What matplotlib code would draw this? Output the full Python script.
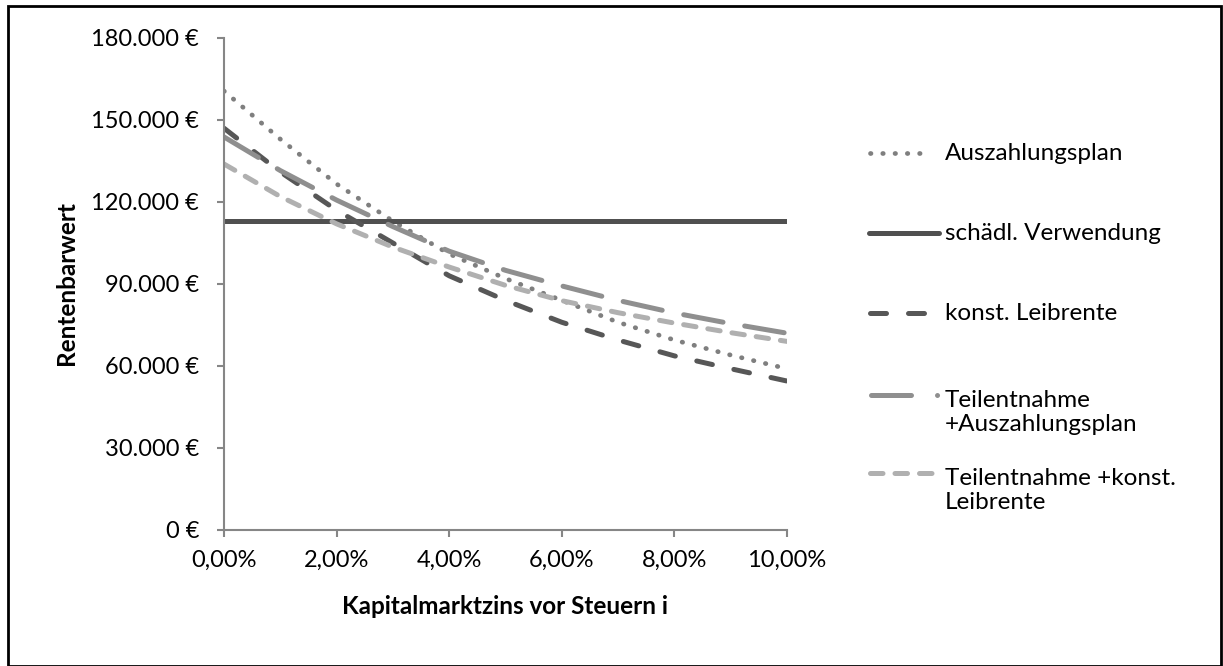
import matplotlib
matplotlib.use('Agg')
import matplotlib.pyplot as plt
import matplotlib.patches as patches
from matplotlib.lines import Line2D
from matplotlib.ticker import FuncFormatter

plt.rcParams['font.family'] = ['Lato', 'DejaVu Sans']

# interest rate in percent
zins = [0, 1, 2, 3, 4, 5, 6, 7, 8, 9, 10]

# present values in euro
auszahlungsplan = [160600, 143000, 126600, 113000, 101000, 92000, 84000, 76000, 69500, 64000, 59000]
schaedl_verwendung = [113000] * 11
konst_leibrente = [147000, 131000, 117000, 105000, 93000, 84000, 76000, 69500, 63700, 59000, 54500]
teil_auszahlungsplan = [143800, 131500, 120700, 111000, 102000, 95000, 89300, 84000, 79400, 75500, 72000]
teil_leibrente = [133900, 122000, 112000, 103500, 96200, 89500, 83900, 79500, 75700, 72200, 69000]

labels = ['Auszahlungsplan', 'schädl. Verwendung', 'konst. Leibrente',
          'Teilentnahme\n+Auszahlungsplan', 'Teilentnahme +konst.\nLeibrente']

W, H = 1223, 666
fig = plt.figure(figsize=(W / 100, H / 100), dpi=100)
ax = fig.add_axes([224 / W, 1 - 530 / H, (787 - 224) / W, (530 - 38) / H])

styles = [
    dict(color='#7f7f7f', lw=3.4, linestyle=(0, (0.1, 2.5)), dash_capstyle='round'),
    dict(color='#505050', lw=3.6, linestyle='-', solid_capstyle='round'),
    dict(color='#575757', lw=3.6, linestyle=(0, (3.2, 4.4)), dash_capstyle='round'),
    dict(color='#8f8f8f', lw=3.6, linestyle=(0, (8, 4.4)), dash_capstyle='round'),
    dict(color='#b0b0b0', lw=3.6, linestyle=(0, (2.5, 2.4)), dash_capstyle='round'),
]
series = [auszahlungsplan, schaedl_verwendung, konst_leibrente, teil_auszahlungsplan, teil_leibrente]
for vals, st in zip(series, styles):
    ax.plot(zins, vals, **st)

ax.set_xlim(0, 10)
ax.set_ylim(0, 180000)
ax.set_xticks([0, 2, 4, 6, 8, 10])
ax.set_yticks(range(0, 180001, 30000))
ax.xaxis.set_major_formatter(FuncFormatter(lambda v, p: '{:.2f}%'.format(v).replace('.', ',')))
ax.yaxis.set_major_formatter(FuncFormatter(lambda v, p: '{:,.0f} €'.format(v).replace(',', '.')))

for s in ['top', 'right']:
    ax.spines[s].set_visible(False)
for s in ['left', 'bottom']:
    ax.spines[s].set_color('#868686')
    ax.spines[s].set_linewidth(1.5)
ax.tick_params(axis='both', colors='#868686', length=5, width=1.5, labelcolor='black', labelsize=17)
ax.tick_params(axis='x', pad=9)
ax.tick_params(axis='y', pad=13)

fig.text(505 / W, 1 - 607 / H, 'Kapitalmarktzins vor Steuern i', fontsize=17.5, fontweight='bold',
         ha='center', va='center')
fig.text(67 / W, 1 - 283 / H, 'Rentenbarwert', fontsize=17.5, fontweight='bold',
         rotation=90, ha='center', va='center')

# legend on the right, handles level with the first text line
leg_y = [153, 233, 313, 395, 473]
handle_x = [(870, 928), (869, 939), (870, 930), (870.5, 942), (870, 932)]
legend_styles = [dict(s) for s in styles]
legend_styles[3]['linestyle'] = (0, (8, 5.2, 0.01, 10))
line_px = 1.2 * 17.5 * 100 / 72
for yy, (x0, x1), st, lab in zip(leg_y, handle_x, legend_styles, labels):
    fig.add_artist(Line2D([x0 / W, x1 / W], [1 - yy / H, 1 - yy / H], transform=fig.transFigure, **st))
    # baseline alignment uses the last line of a multi-line label
    extra = line_px * lab.count('\n')
    fig.text(945 / W, 1 - (yy + 7 + extra) / H, lab, fontsize=17.5, ha='left', va='baseline',
             linespacing=1.2)

# outer frame
fig.patches.append(patches.Rectangle((0.0065, 0.0), 0.992, 0.991, transform=fig.transFigure,
                                     fill=False, edgecolor='black', linewidth=2))

plt.savefig('out.png', dpi=100)
plt.close()
